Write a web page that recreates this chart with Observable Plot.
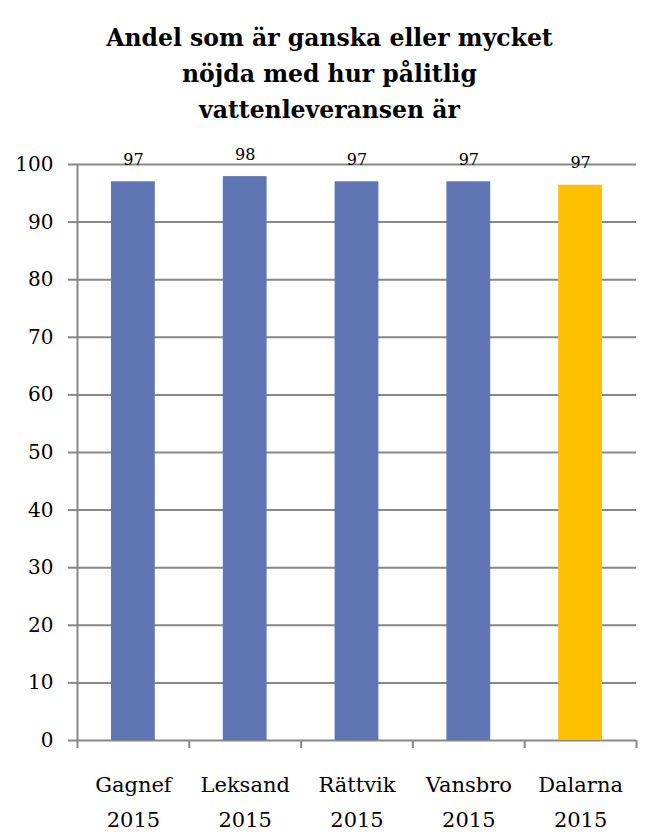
<!DOCTYPE html>
<html>
<head>
<meta charset="utf-8">
<script src="https://cdn.jsdelivr.net/npm/d3@7"></script>
<script src="https://cdn.jsdelivr.net/npm/@observablehq/plot@0.6"></script>
<style>
  html, body { margin: 0; padding: 0; background: #fff; }
  #title {
    width: 659px; box-sizing: border-box; padding-top: 20px; height: 130px;
    text-align: center; font-family: "DejaVu Serif", serif; font-weight: bold;
    font-size: 23.5px; line-height: 36px; color: #000;
  }
  #chart svg { display: block; }
</style>
</head>
<body>
<div id="title">Andel som är ganska eller mycket<br>nöjda med hur pålitlig<br>vattenleveransen är</div>
<div id="chart"></div>
<script>
const names = ["Gagnef", "Leksand", "Rättvik", "Vansbro", "Dalarna"];
const years = ["2015", "2015", "2015", "2015", "2015"];
const values = [97, 97.9, 97, 97, 96.4];
const labels = ["97", "98", "97", "97", "97"];
const yTicks = [0, 10, 20, 30, 40, 50, 60, 70, 80, 90, 100];

const data = names.map((n, i) => ({i, name: n, year: years[i], value: values[i], label: labels[i]}));
const gridColor = "#878787";
const font = "DejaVu Serif";

const chart = Plot.plot({
  width: 659,
  height: 709,
  marginLeft: 77,
  marginRight: 23,
  marginTop: 34,
  marginBottom: 99,
  style: {fontFamily: font, color: "#000", background: "#fff"},
  x: {domain: [0, names.length], axis: null},
  y: {domain: [0, 100], axis: null},
  marks: [
    Plot.gridY(yTicks, {stroke: gridColor, strokeOpacity: 1, strokeWidth: 2}),
    Plot.axisY(yTicks, {label: null, tickSize: 9, tickPadding: 15, stroke: gridColor, strokeWidth: 2, fontSize: 20, tickFormat: d => String(d), fill: "#000"}),
    Plot.rectY(data, {x1: d => d.i, x2: d => d.i + 1, y: "value", insetLeft: 34, insetRight: 34,
      fill: d => d.name === "Dalarna" ? "#ffc000" : "#6076b4"}),
    Plot.ruleX([0], {y1: 0, y2: 100, stroke: gridColor, strokeWidth: 2}),
    Plot.axisX(d3.range(0, names.length + 1), {label: null, tickSize: 8, stroke: gridColor, strokeWidth: 2, tickFormat: () => ""}),
    Plot.text(data, {x: d => d.i + 0.5, y: "value", text: "label", lineAnchor: "bottom", dy: -17, fontSize: 16, fill: "#000"}),
    Plot.text(data, {x: d => d.i + 0.5, y: 0, text: d => d.name + "\n" + d.year, lineAnchor: "top", dy: 27, lineHeight: 1.67, fontSize: 21, fill: "#000"})
  ]
});
document.getElementById("chart").appendChild(chart);
</script>
</body>
</html>
